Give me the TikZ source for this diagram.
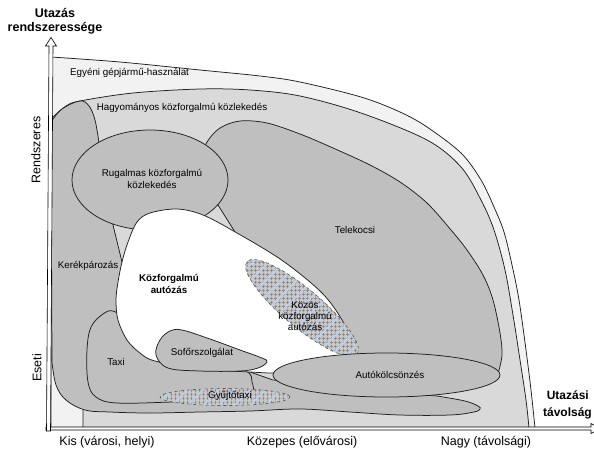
\documentclass[tikz,border=0pt]{standalone}
\usepackage{fontspec}
\setmainfont{Liberation Sans}
\usetikzlibrary{patterns.meta}
\definecolor{egy}{HTML}{F2F2F2}
\definecolor{hagy}{HTML}{D9D9D9}
\definecolor{sotet}{HTML}{BFBFBF}
\definecolor{hbase}{HTML}{C8C8C8}
\definecolor{hgrid}{HTML}{7C7C7C}
\definecolor{hblue}{HTML}{BDD0EE}
\begin{document}
\begin{tikzpicture}[x=1pt,y=-1pt,
  outl/.style={draw=black!88, line width=0.75pt},
  lbl/.style={font=\fontsize{9.8}{11.5}\selectfont, align=center, inner sep=0pt},
  lblb/.style={font=\fontsize{9.8}{11.5}\selectfont\bfseries, align=center, inner sep=0pt},
  axl/.style={font=\fontsize{12.5}{14}\selectfont, inner sep=0pt},
  axb/.style={font=\fontsize{12.5}{13.5}\selectfont\bfseries, align=center, inner sep=0pt},
  hatched/.style={draw=black!65, dashed, line width=0.6pt,
    preaction={fill=hbase},
    preaction={pattern={Hatch[angle=0,distance=4pt,line width=0.4pt]}, pattern color=hgrid},
    preaction={pattern={Lines[angle=45,distance=11pt,line width=1.6pt]}, pattern color=hblue}},
  axisarrow/.style={draw=black, line width=0.6pt, fill=white}]
\fill[white] (0,0) rectangle (594,453);
\useasboundingbox (0,0) rectangle (594,453);
\clip (0,0) rectangle (594,453);

% Egyeni gepjarmu-hasznalat
\path[outl, fill=egy] (51,428) -- (51,57) -- plot[smooth,tension=0.55] coordinates {(51,57) (120,62) (200,70) (260,76) (300,82) (361,97) (400,112) (427,127) (461,153) (481,180) (494,207) (504,232) (512,265) (519,300) (526,350) (531,390) (535,428)} -- cycle;

% Hagyomanyos kozforgalmu kozlekedes
\path[outl, fill=hagy] (83,428) -- (83,330) -- (62,200) -- (52,118) -- plot[smooth,tension=0.55] coordinates {(52,118) (66,106) (80,101) (133,93) (200,89) (250,90) (300,96) (361,113) (427,140) (461,167) (481,200) (494,230) (505,270) (513,315) (520,360) (526,400) (529,428)} -- cycle;

% Telekocsi
\path[outl, fill=sotet] (205,180) -- (218,205) -- (235,232) -- (250,258) -- (330,330) -- (356,368) -- (480,380) -- (498,374) -- plot[smooth,tension=0.55] coordinates {(498,374) (502,355) (500,333) (493,300) (483,275) (467,250) (451,230) (427,203) (400,182) (370,165) (333,148) (300,134) (267,123) (240,121) (220,128) (207,142) (200,160)} -- cycle;

% Kerekparozas (L alak)
\path[outl, fill=sotet] (51,122) -- plot[smooth,tension=0.6] coordinates {(51,122) (62,109) (80,101) (89,106) (95,120) (99,143)} -- (113,225) -- (122,262) -- (125,300) -- (150,345) -- (200,365) -- (250,372) -- (273,380) -- (380,392) -- (437,396) -- plot[smooth,tension=0.6] coordinates {(437,396) (465,401) (478,406) (480,409) (474,412) (450,415) (400,415) (350,412) (300,409) (250,411) (200,412) (150,413) (110,412) (85,410) (66,400) (56,385) (52,362)} -- cycle;

% Rugalmas kozforgalmu kozlekedes
\path[outl, fill=sotet] (150,180) ellipse [x radius=78pt, y radius=50pt];

% Taxi
\path[outl, fill=sotet] plot[smooth cycle,tension=0.6] coordinates {(103,314) (113,311) (125,320) (150,345) (200,362) (245,371) (252,382) (252,396) (230,400) (173,402) (117,403) (96,397) (88,382) (87,350) (91,327)};

% Kozforgalmu autozas (feher)
\path[outl, fill=white] plot[smooth cycle,tension=0.55] coordinates {(137,222) (150,213) (177,209) (203,215) (237,233) (283,261) (323,294) (345,325) (354,348) (350,366) (300,372) (273,373) (250,372) (200,369) (155,361) (140,353) (127,340) (118,320) (116,300) (118,282) (122,262) (128,242)};

% Kozos kozforgalmu autozas
\path[hatched, rotate around={-40:(302,308)}] (302,308) ellipse [x radius=72pt, y radius=19pt];

% Soforszolgalat
\path[outl, fill=sotet] plot[smooth cycle,tension=0.6] coordinates {(156,355) (160,340) (170,331) (182,330) (210,339) (240,350) (262,358) (267,362) (258,368) (240,371) (200,371) (168,368)};

% Autokolcsonzes
\path[outl, fill=sotet] (386.5,375) ellipse [x radius=113.5pt, y radius=22pt];

% Gyujtotaxi
\path[hatched] (225,397) ellipse [x radius=65pt, y radius=8.5pt];

% tengelyek
\path[axisarrow] (46,427) -- (591,427) -- (591,423.5) -- (600,428.5) -- (591,433.5) -- (591,430) -- (46,430) -- cycle;
\path[axisarrow] (46.5,431) -- (49,46) -- (45.5,46) -- (51,37.5) -- (56.5,46) -- (53,46) -- (50.5,431) -- cycle;

% feliratok
\node[lbl, anchor=west] (egyeni) at (70,73) {Egyéni gépjármű-használat};
\node[lbl] (hagyom) at (182,108) {Hagyományos közforgalmú közlekedés};
\node[lbl] (rugalm) at (152,179) {Rugalmas közforgalmú\\közlekedés};
\node[lbl] (telek) at (355,230) {Telekocsi};
\node[lbl] (kerek) at (88,266) {Kerékpározás};
\node[lblb] (kozaut) at (169,284) {Közforgalmú\\autózás};
\node[lbl, font=\fontsize{9.8}{11.3}\selectfont] (kozos) at (305,316) {Közös\\közforgalmú\\autózás};
\node[lbl] (taxi) at (116,362) {Taxi};
\node[lbl] (sofor) at (202,353) {Sofőrszolgálat};
\node[lbl] (autok) at (390,375) {Autókölcsönzés};
\node[lbl] (gyujto) at (230,396) {Gyűjtőtaxi};

\node[axb] (ytitle) at (55,21) {Utazás\\rendszeressége};
\node[axl, rotate=90] (rendsz) at (36,150) {Rendszeres};
\node[axl, rotate=90] (eseti) at (37,368) {Eseti};
\node[axl] (kis) at (107,442) {Kis (városi, helyi)};
\node[axl] (kozepes) at (302,442) {Közepes (elővárosi)};
\node[axl] (nagy) at (486,442) {Nagy (távolsági)};
\node[axb, font=\fontsize{12}{13}\selectfont\bfseries, anchor=east] (xtitle1) at (589,395) {Utazási};
\node[axb, font=\fontsize{12}{13}\selectfont\bfseries, anchor=east] (xtitle2) at (592,413) {távolság};
\end{tikzpicture}
\end{document}
